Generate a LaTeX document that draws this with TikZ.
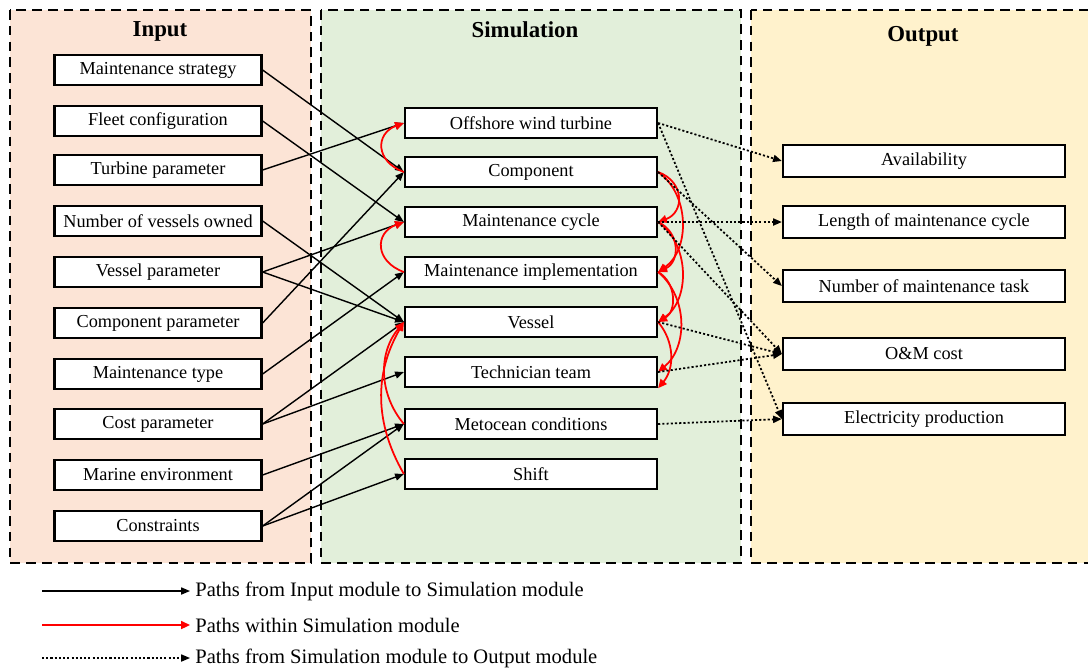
\documentclass[tikz,border=0pt]{standalone}
\usepackage{fontspec}
\setmainfont{Liberation Serif}
\usepackage{tikz}
\usetikzlibrary{positioning}
\usetikzlibrary{arrows.meta}

\definecolor{inbg}{RGB}{252,228,214}
\definecolor{simbg}{RGB}{226,239,218}
\definecolor{outbg}{RGB}{255,242,204}

\begin{document}
\begin{tikzpicture}[x=0.02cm,y=0.02cm,
  box/.style={draw,line width=1.3pt,fill=white,minimum height=0.6cm,inner sep=1pt,font=\fontsize{10.4}{12.5}\selectfont},
  inbox/.style={box,minimum width=4.14cm},
  simbox/.style={box,minimum width=5.04cm},
  outbox/.style={box,minimum width=5.64cm,minimum height=0.64cm},
  panel/.style={line width=1.5pt,dash pattern=on 5.5pt off 3.5pt},
  title/.style={font=\fontsize{13}{15}\selectfont\bfseries},
  legend/.style={anchor=west,inner sep=0.1cm,font=\fontsize{11.7}{14}\selectfont},
  inpath/.style={-{Triangle[length=5pt,width=4pt]},line width=0.8pt},
  simpath/.style={-{Triangle[length=5pt,width=4.5pt]},red,line width=1pt},
  outpath/.style={-{Triangle[length=5pt,width=4pt]},line width=1pt,dash pattern=on 1.2pt off 1.2pt}]
  \useasboundingbox (0,0) rectangle (1088,-667);

  % Panels
  \draw[panel,fill=inbg] (10,-10) rectangle (311,-563);
  \draw[panel,fill=simbg] (321,-10) rectangle (741,-563);
  \draw[panel,fill=outbg] (751,-10) rectangle (1110,-563);

  \node[title] (tin) at (160,-31) {Input};
  \node[title] (tsim) at (525,-30) {Simulation};
  \node[title] (tout) at (923,-36) {Output};

  % Input nodes
  \node[inbox] (ms) at (158,-70) {Maintenance strategy};
  \node[inbox] (fc) at (158,-121) {Fleet configuration};
  \node[inbox] (tp) at (158,-170) {Turbine parameter};
  \node[inbox] (nv) at (158,-221) {Number of vessels owned};
  \node[inbox] (vp) at (158,-272) {Vessel parameter};
  \node[inbox] (cp) at (158,-323) {Component parameter};
  \node[inbox] (mt) at (158,-374) {Maintenance type};
  \node[inbox] (cop) at (158,-424) {Cost parameter};
  \node[inbox] (me) at (158,-475) {Marine environment};
  \node[inbox] (con) at (158,-526) {Constraints};

  % Simulation nodes
  \node[simbox] (owt) at (531,-123) {Offshore wind turbine};
  \node[simbox] (comp) at (531,-172) {Component};
  \node[simbox] (mc) at (531,-222) {Maintenance cycle};
  \node[simbox] (mi) at (531,-272) {Maintenance implementation};
  \node[simbox] (ves) at (531,-322) {Vessel};
  \node[simbox] (tt) at (531,-372) {Technician team};
  \node[simbox] (met) at (531,-424) {Metocean conditions};
  \node[simbox] (shift) at (531,-474) {Shift};

  % Output nodes
  \node[outbox] (av) at (924,-161) {Availability};
  \node[outbox] (lmc) at (924,-222) {Length of maintenance cycle};
  \node[outbox] (nmt) at (924,-286) {Number of maintenance task};
  \node[outbox] (om) at (924,-354) {O\&M cost};
  \node[outbox] (ep) at (924,-419) {Electricity production};

  % Input to simulation
  \draw[inpath] (ms.east) -- (comp.west);
  \draw[inpath] (fc.east) -- (mc.west);
  \draw[inpath] (tp.east) -- (owt.west);
  \draw[inpath] (nv.east) -- (ves.west);
  \draw[inpath] (vp.east) -- (mc.west);
  \draw[inpath] (vp.east) -- (ves.west);
  \draw[inpath] (cp.east) -- (comp.west);
  \draw[inpath] (mt.east) -- (mi.west);
  \draw[inpath] (cop.east) -- (ves.west);
  \draw[inpath] (cop.east) -- (tt.west);
  \draw[inpath] (me.east) -- (met.west);
  \draw[inpath] (con.east) -- (met.west);
  \draw[inpath] (con.east) -- (shift.west);

  % Within simulation
  \draw[simpath] (comp.west) to[bend left=70,looseness=1.6] (owt.west);
  \draw[simpath] (mi.west) to[bend left=70,looseness=1.6] (mc.west);
  \draw[simpath] (met.west) to[bend left=40] (ves.west);
  \draw[simpath] (shift.west) to[bend left=30] (ves.west);
  \draw[simpath] (comp.east) to[bend left=70,looseness=1.45] (mc.east);
  \draw[simpath] (comp.east) to[bend left=55] (mi.east);
  \draw[simpath] (mc.east) to[bend left=65,looseness=1.25] (mi.east);
  \draw[simpath] (mc.east) to[bend left=55] (ves.east);
  \draw[simpath] (mi.east) to[bend left=60,looseness=1.1] (ves.east);
  \draw[simpath] (mi.east) to[bend left=50] (tt.east);
  \draw[simpath] (ves.east) to[bend left=40] (tt.south east);

  % Simulation to output
  \draw[outpath] (owt.east) -- (av.west);
  \draw[outpath] (owt.east) -- (ep.west);
  \draw[outpath] (comp.east) -- (nmt.west);
  \draw[outpath] (mc.east) -- (lmc.west);
  \draw[outpath] (mc.east) -- (om.west);
  \draw[outpath] (ves.east) -- (om.west);
  \draw[outpath] (tt.east) -- (om.west);
  \draw[outpath] (met.east) -- (ep.west);

  % Legend
  \coordinate (lg1) at (42,-591);
  \coordinate (lg2) at (42,-625);
  \coordinate (lg3) at (42,-658);
  \node[legend] (lt1) at (190,-591) {Paths from Input module to Simulation module};
  \node[legend] (lt2) at (190,-625) {Paths within Simulation module};
  \node[legend] (lt3) at (190,-658) {Paths from Simulation module to Output module};
  \draw[inpath] (lg1) -- (lt1.west);
  \draw[simpath] (lg2) -- (lt2.west);
  \draw[outpath,line width=0.8pt] (lg3) -- (lt3.west);
\end{tikzpicture}
\end{document}
